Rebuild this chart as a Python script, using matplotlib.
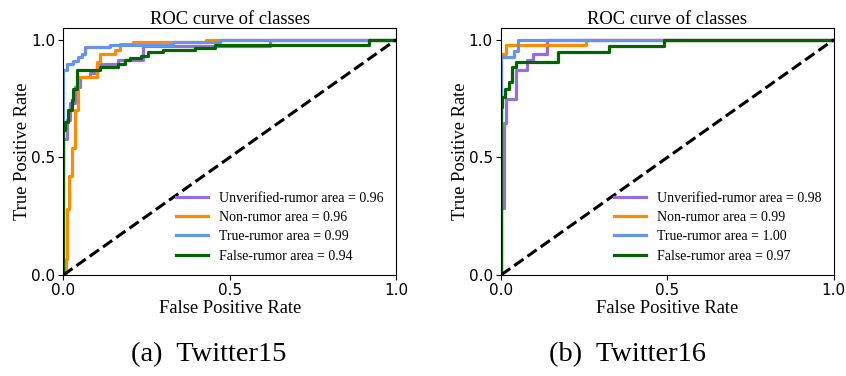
import matplotlib
matplotlib.use("Agg")
import matplotlib.pyplot as plt

serif = ['Liberation Serif', 'DejaVu Serif']

labels = ['Unverified-rumor', 'Non-rumor', 'True-rumor', 'False-rumor']
colors = ['mediumpurple', 'darkorange', 'cornflowerblue', 'darkgreen']

# Twitter15
auc_15 = [0.96, 0.96, 0.99, 0.94]
fpr_15_unv = [0, 0, 0.01, 0.01, 0.02, 0.02, 0.035, 0.035, 0.05, 0.05, 0.08, 0.08, 0.1, 0.1, 0.165, 0.165, 0.24, 0.24, 0.62, 0.62, 1.0]
tpr_15_unv = [0, 0.58, 0.58, 0.66, 0.66, 0.73, 0.73, 0.80, 0.80, 0.84, 0.84, 0.86, 0.86, 0.895, 0.895, 0.915, 0.915, 0.975, 0.975, 1.0, 1.0]
fpr_15_non = [0, 0.008, 0.008, 0.012, 0.012, 0.018, 0.018, 0.025, 0.025, 0.035, 0.035, 0.045, 0.045, 0.1, 0.1, 0.11, 0.11, 0.155, 0.155, 0.17, 0.17, 0.21, 0.21, 0.43, 0.43, 1.0]
tpr_15_non = [0, 0, 0.07, 0.07, 0.28, 0.28, 0.42, 0.42, 0.54, 0.54, 0.70, 0.70, 0.84, 0.84, 0.905, 0.905, 0.94, 0.94, 0.955, 0.955, 0.983, 0.983, 0.99, 0.99, 1.0, 1.0]
fpr_15_tru = [0, 0, 0.01, 0.01, 0.03, 0.03, 0.045, 0.045, 0.055, 0.055, 0.065, 0.065, 0.14, 0.14, 0.33, 0.33, 0.47, 0.47, 1.0]
tpr_15_tru = [0, 0.873, 0.873, 0.898, 0.898, 0.909, 0.909, 0.926, 0.926, 0.94, 0.94, 0.969, 0.969, 0.979, 0.979, 0.99, 0.99, 1.0, 1.0]
fpr_15_fal = [0, 0, 0.005, 0.005, 0.015, 0.015, 0.025, 0.025, 0.03, 0.03, 0.04, 0.04, 0.11, 0.11, 0.165, 0.165, 0.185, 0.185, 0.2, 0.2, 0.235, 0.235, 0.255, 0.255, 0.30, 0.30, 0.395, 0.395, 0.455, 0.455, 0.92, 0.92, 1.0]
tpr_15_fal = [0, 0.616, 0.616, 0.65, 0.65, 0.70, 0.70, 0.743, 0.743, 0.79, 0.79, 0.87, 0.87, 0.884, 0.884, 0.898, 0.898, 0.912, 0.912, 0.924, 0.924, 0.933, 0.933, 0.947, 0.947, 0.955, 0.955, 0.966, 0.966, 0.976, 0.976, 1.0, 1.0]

# Twitter16
auc_16 = [0.98, 0.99, 1.00, 0.97]
fpr_16_unv = [0, 0, 0.01, 0.01, 0.015, 0.015, 0.046, 0.046, 0.077, 0.077, 0.097, 0.097, 0.139, 0.139, 1.0]
tpr_16_unv = [0, 0.285, 0.285, 0.645, 0.645, 0.75, 0.75, 0.87, 0.87, 0.912, 0.912, 0.94, 0.94, 1.0, 1.0]
fpr_16_non = [0, 0, 0.016, 0.016, 0.254, 0.254, 1.0]
tpr_16_non = [0, 0.938, 0.938, 0.976, 0.976, 1.0, 1.0]
fpr_16_tru = [0, 0, 0.039, 0.039, 0.051, 0.051, 1.0]
tpr_16_tru = [0, 0.926, 0.926, 0.952, 0.952, 1.0, 1.0]
fpr_16_fal = [0, 0, 0.004, 0.004, 0.012, 0.012, 0.025, 0.025, 0.033, 0.033, 0.046, 0.046, 0.172, 0.172, 0.323, 0.323, 0.49, 0.49, 1.0]
tpr_16_fal = [0, 0.715, 0.715, 0.757, 0.757, 0.79, 0.79, 0.82, 0.82, 0.884, 0.884, 0.905, 0.905, 0.95, 0.95, 0.973, 0.973, 1.0, 1.0]

panels = [
    ([(fpr_15_unv, tpr_15_unv), (fpr_15_non, tpr_15_non), (fpr_15_tru, tpr_15_tru), (fpr_15_fal, tpr_15_fal)], auc_15, '(a)  Twitter15'),
    ([(fpr_16_unv, tpr_16_unv), (fpr_16_non, tpr_16_non), (fpr_16_tru, tpr_16_tru), (fpr_16_fal, tpr_16_fal)], auc_16, '(b)  Twitter16'),
]

fig = plt.figure(figsize=(8.46, 3.76), dpi=100)
lefts = [0.0748, 0.5922]
caption_x = [0.247, 0.742]

for k, (curves, aucs, caption) in enumerate(panels):
    ax = fig.add_axes([lefts[k], 0.2686, 0.3934, 0.657])
    for (fpr, tpr), lab, col, a in zip(curves, labels, colors, aucs):
        ax.plot(fpr, tpr, color=col, lw=2.3, label='%s area = %.2f' % (lab, a))
    ax.plot([0, 1], [0, 1], 'k--', lw=2.2)
    ax.set_xlim(0, 1.0)
    ax.set_ylim(0, 1.05)
    ax.set_xticks([0, 0.5, 1.0])
    ax.set_yticks([0, 0.5, 1.0])
    ax.set_xticklabels(['0.0', '0.5', '1.0'])
    ax.set_yticklabels(['0.0', '0.5', '1.0'])
    ax.tick_params(labelsize=11, length=3.5, pad=2.5)
    ax.set_title('ROC curve of classes', family=serif, fontsize=13.3, pad=3)
    ax.set_xlabel('False Positive Rate', family=serif, fontsize=13.3, labelpad=1)
    ax.set_ylabel('True Positive Rate', family=serif, fontsize=13.3, labelpad=0)
    ax.legend(loc='lower right', frameon=False, prop={'family': serif, 'size': 10},
              handlelength=2.3, labelspacing=0.45, borderaxespad=0.5)
    fig.text(caption_x[k], 0.058, caption, family=serif, fontsize=20.5, ha='center', va='center')

fig.savefig('out.png', dpi=100)
